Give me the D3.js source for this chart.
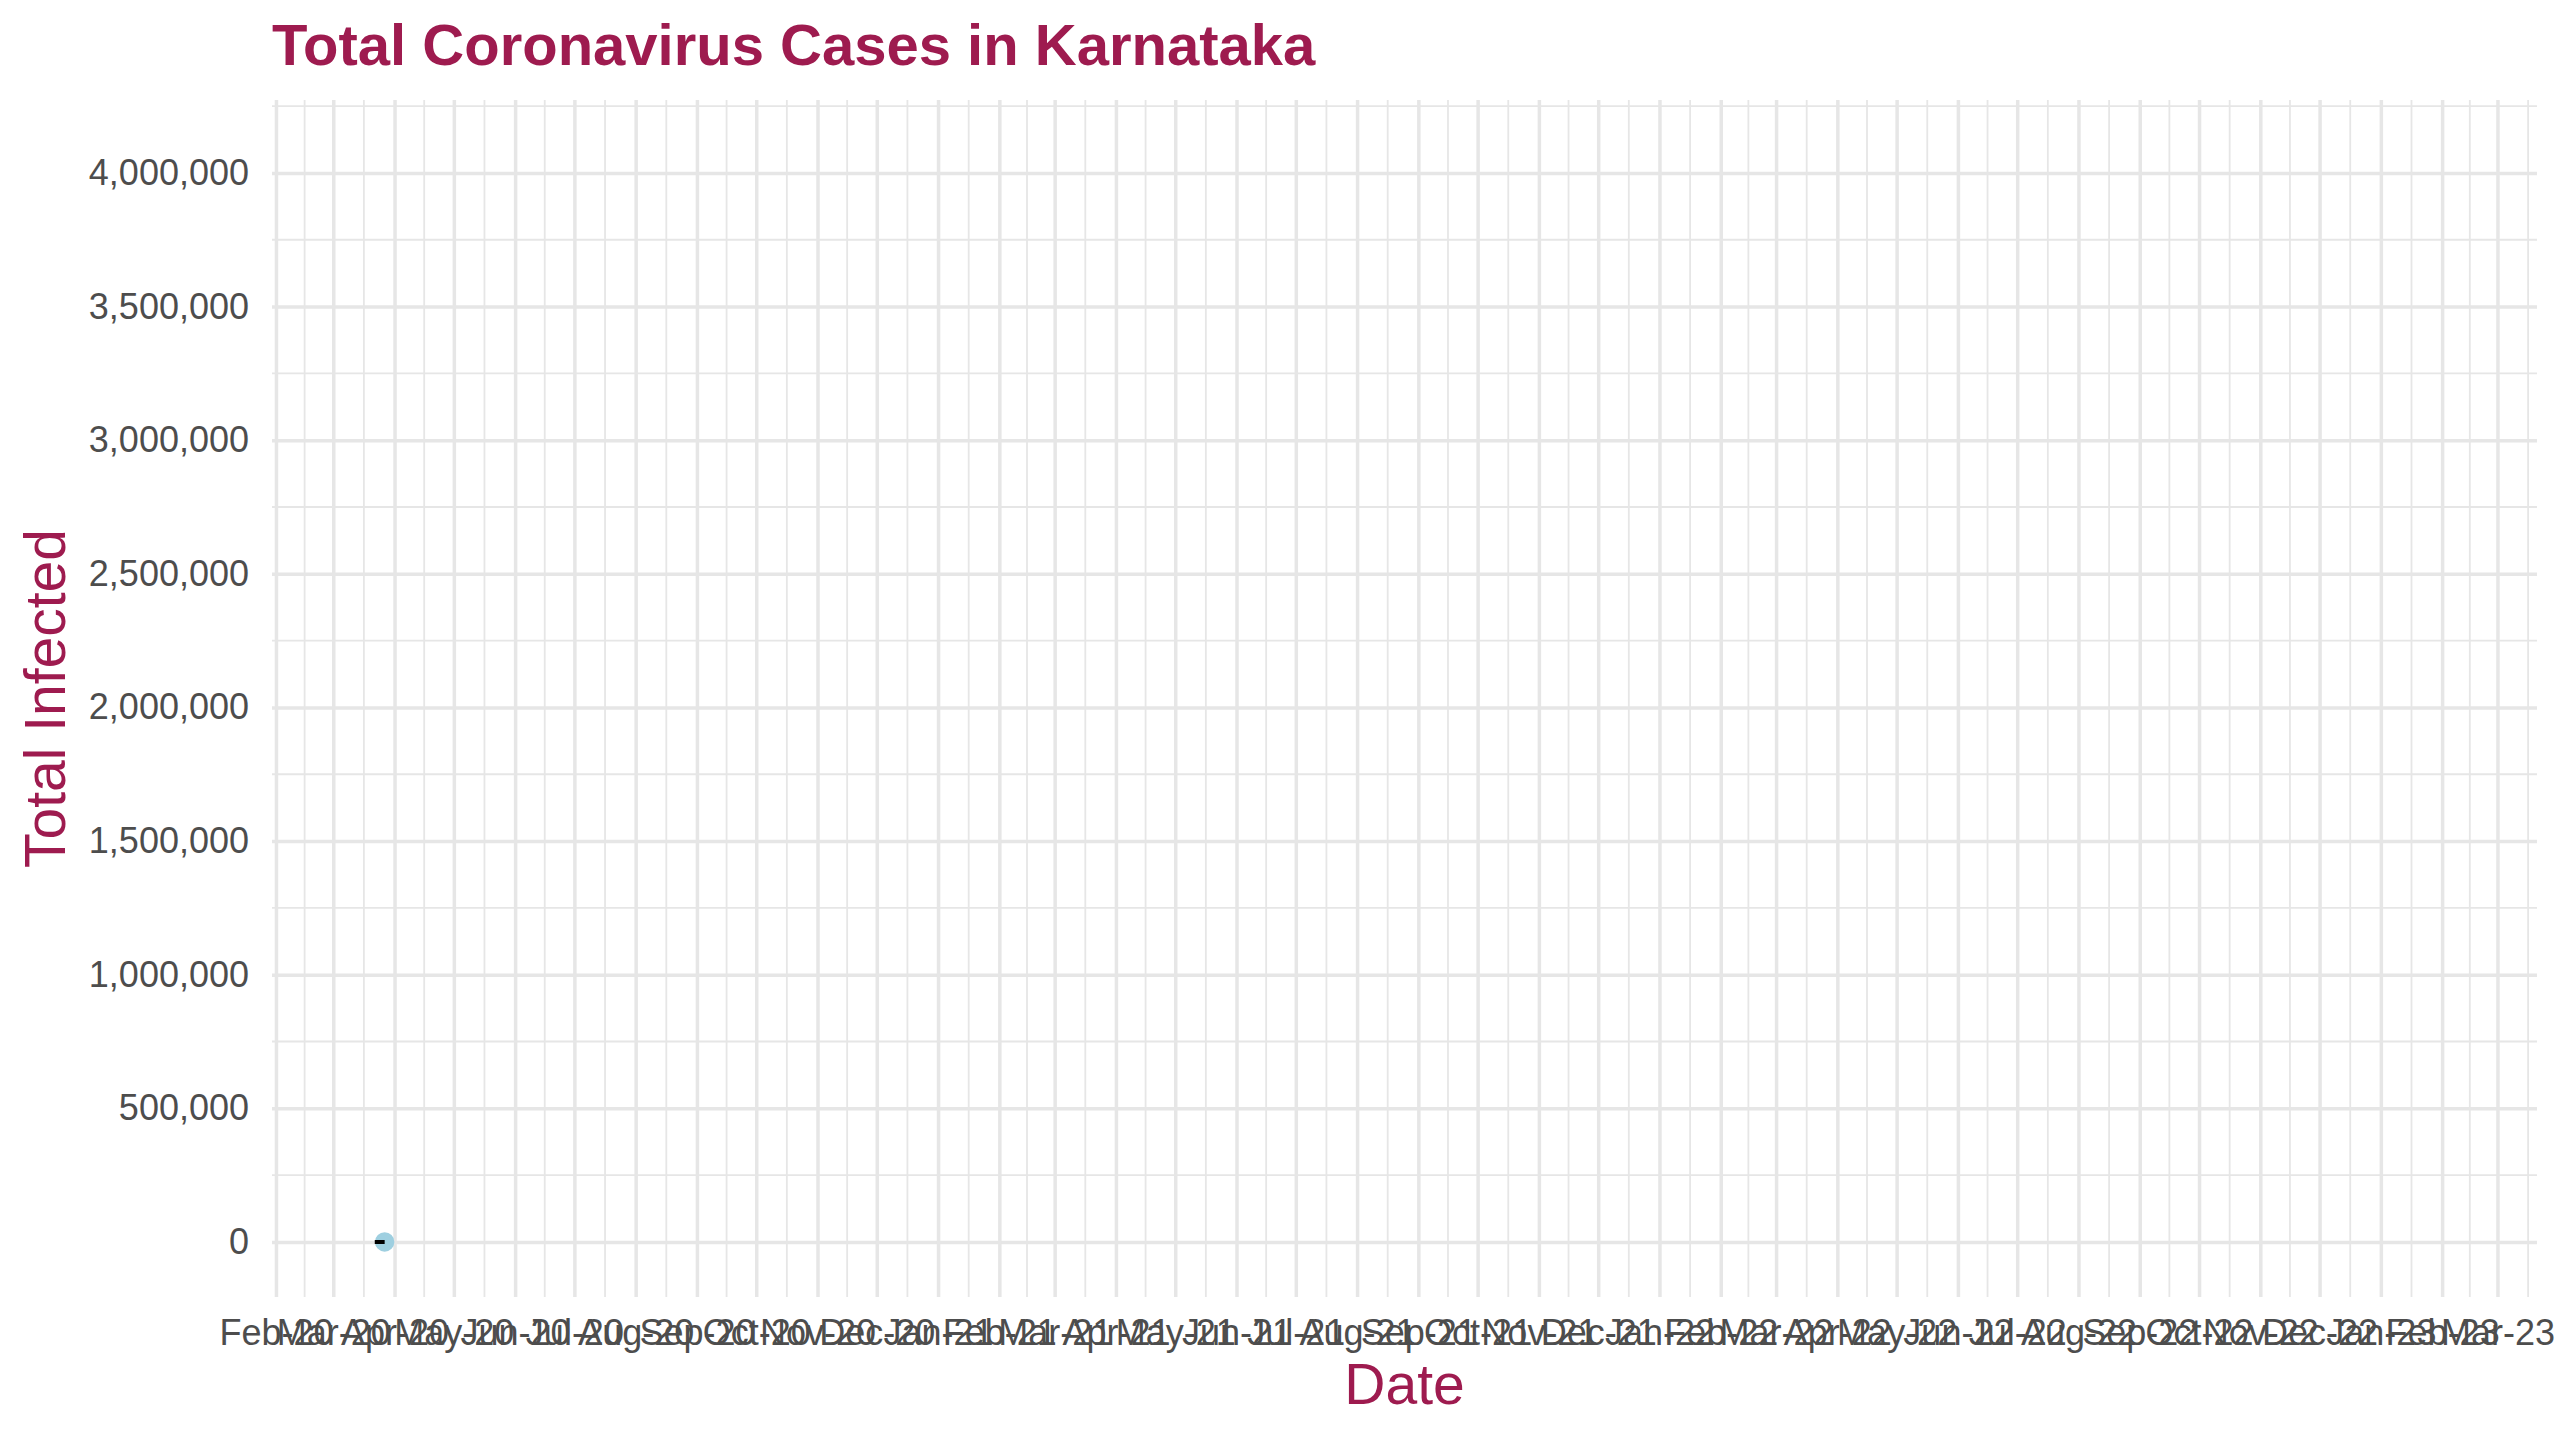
<!DOCTYPE html>
<html>
<head>
<meta charset="utf-8">
<script src="https://cdn.jsdelivr.net/npm/d3@7"></script>
<style>
  body { margin: 0; background: #ffffff; }
  svg text { font-family: "Liberation Sans", Arial, sans-serif; }
</style>
</head>
<body>
<svg id="chart" width="2560" height="1440"></svg>
<script>
// visible part of the series (first frame of the animation)
const dates = ["2020-03-22", "2020-03-23", "2020-03-24", "2020-03-25", "2020-03-26", "2020-03-27"];
const totalInfected = [26, 33, 37, 41, 55, 64];

// axis extents of the full series (with ggplot style padding)
const xExtent = ["2020-01-30", "2023-03-21"];
const yExtent = [-206000, 4273000];
const yTicks = [0, 500000, 1000000, 1500000, 2000000, 2500000, 3000000, 3500000, 4000000];
const firstMonthTick = "2020-02-01";
const lastMonthTick = "2023-03-01";

const maroon = "#9e1b4f";
const gridColor = "#e6e6e6";

const parse = d3.timeParse("%Y-%m-%d");
const data = dates.map((d, i) => ({ date: parse(d), value: totalInfected[i] }));

const margin = { left: 272, right: 23, top: 100, bottom: 143 };
const width = 2560 - margin.left - margin.right;
const height = 1440 - margin.top - margin.bottom;

const x = d3.scaleTime()
  .domain(xExtent.map(parse))
  .range([0, width]);

const y = d3.scaleLinear()
  .domain(yExtent)
  .range([height, 0]);

// month breaks and minor breaks at the midpoints
const monthTicks = d3.timeMonth.range(parse(firstMonthTick), d3.timeMonth.offset(parse(lastMonthTick), 1));
const extMonths = d3.timeMonth.range(d3.timeMonth.offset(parse(firstMonthTick), -1), d3.timeMonth.offset(parse(lastMonthTick), 2));
const minorX = d3.pairs(extMonths)
  .map(([a, b]) => new Date((a.getTime() + b.getTime()) / 2))
  .filter((d) => x(d) >= 0 && x(d) <= width);
const minorY = d3.pairs(yTicks.concat([4500000]).concat([-500000]).sort((a, b) => a - b))
  .map(([a, b]) => (a + b) / 2)
  .filter((v) => y(v) >= 0 && y(v) <= height);

const svg = d3.select("#chart");
svg.append("rect").attr("width", 2560).attr("height", 1440).attr("fill", "#ffffff");

const g = svg.append("g").attr("transform", `translate(${margin.left},${margin.top})`);

// minor grid
g.append("g")
  .selectAll("line.minor-y")
  .data(minorY)
  .enter()
  .append("line")
  .attr("x1", 0).attr("x2", width)
  .attr("y1", (d) => y(d)).attr("y2", (d) => y(d))
  .attr("stroke", gridColor).attr("stroke-width", 1.8);

g.append("g")
  .selectAll("line.minor-x")
  .data(minorX)
  .enter()
  .append("line")
  .attr("x1", (d) => x(d)).attr("x2", (d) => x(d))
  .attr("y1", 0).attr("y2", height)
  .attr("stroke", gridColor).attr("stroke-width", 1.8);

// major grid
const yGrid = g.append("g")
  .call(d3.axisLeft(y).tickValues(yTicks).tickSize(-width).tickFormat(""));
yGrid.select(".domain").remove();
yGrid.selectAll("line").attr("stroke", gridColor).attr("stroke-width", 3.5);

const xGrid = g.append("g")
  .attr("transform", `translate(0,${height})`)
  .call(d3.axisBottom(x).tickValues(monthTicks).tickSize(-height).tickFormat(""));
xGrid.select(".domain").remove();
xGrid.selectAll("line").attr("stroke", gridColor).attr("stroke-width", 3.5);

// axis labels
const yAxis = g.append("g")
  .call(d3.axisLeft(y).tickValues(yTicks).tickSize(0).tickPadding(23).tickFormat(d3.format(",")));
yAxis.select(".domain").remove();
yAxis.selectAll("text")
  .attr("fill", "#4d4d4d")
  .style("font-size", "36px");

const xAxis = g.append("g")
  .attr("transform", `translate(0,${height})`)
  .call(d3.axisBottom(x).tickValues(monthTicks).tickSize(0).tickFormat(d3.timeFormat("%b-%y")));
xAxis.select(".domain").remove();
xAxis.selectAll("text")
  .attr("y", 48)
  .attr("dy", null)
  .attr("fill", "#4d4d4d")
  .style("font-size", "36px");

// point at the current frame, then the revealed line on top
const last = data[data.length - 1];
g.append("circle")
  .attr("cx", x(last.date))
  .attr("cy", y(last.value))
  .attr("r", 9.7)
  .attr("fill", "#9ecfe0");

g.append("path")
  .datum(data)
  .attr("fill", "none")
  .attr("stroke", "#000000")
  .attr("stroke-width", 4)
  .attr("d", d3.line().x((d) => x(d.date)).y((d) => y(d.value)));

// titles
svg.append("text")
  .attr("x", margin.left)
  .attr("y", 65)
  .attr("fill", maroon)
  .style("font-size", "58px")
  .style("font-weight", "bold")
  .text("Total Coronavirus Cases in Karnataka");

svg.append("text")
  .attr("x", margin.left + width / 2)
  .attr("y", 1404)
  .attr("text-anchor", "middle")
  .attr("fill", maroon)
  .style("font-size", "57px")
  .text("Date");

svg.append("text")
  .attr("transform", `translate(65,${margin.top + height / 2}) rotate(-90)`)
  .attr("text-anchor", "middle")
  .attr("fill", maroon)
  .style("font-size", "57px")
  .text("Total Infected");
</script>
</body>
</html>
